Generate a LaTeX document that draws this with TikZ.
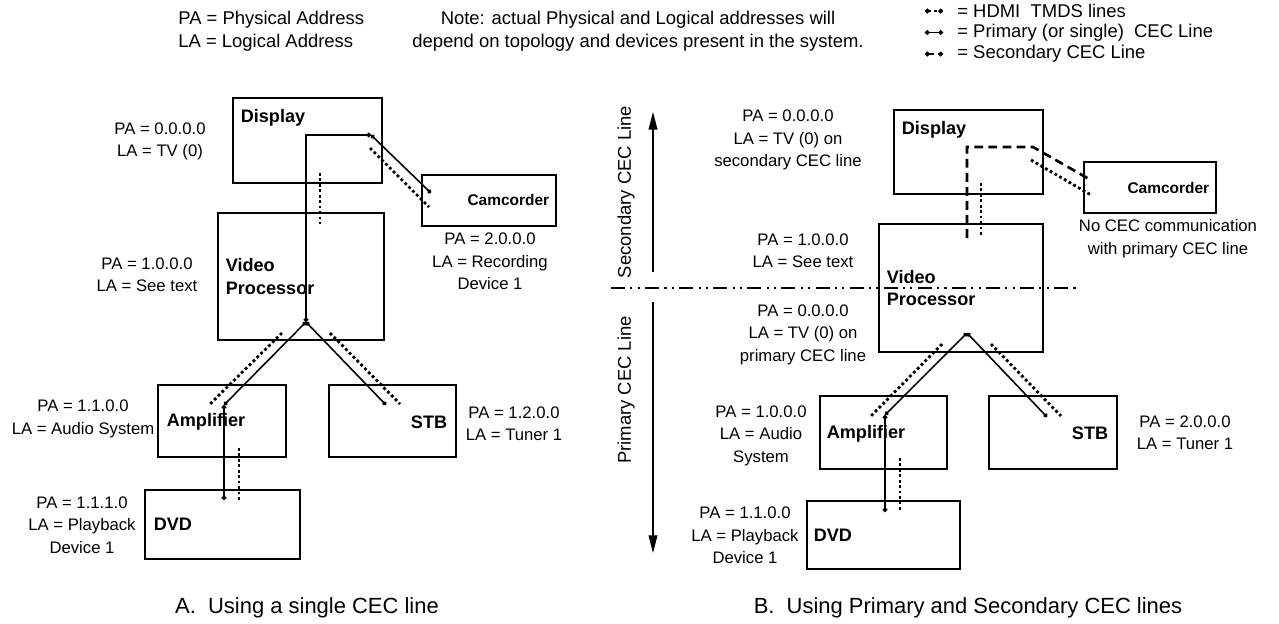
\documentclass[tikz,border=0pt]{standalone}
\usepackage{fontspec}
\setmainfont{Liberation Sans}
\usetikzlibrary{arrows.meta, positioning}

\begin{document}
\begin{tikzpicture}[
    x=0.02cm, y=-0.02cm,
    box/.style={rectangle, draw, line width=0.6pt, inner sep=0pt},
    devname/.style={font=\fontsize{10.3}{13}\selectfont\bfseries, inner sep=0pt, align=left},
    smallname/.style={font=\fontsize{8.8}{11}\selectfont\bfseries, inner sep=0pt},
    addr/.style={align=center, font=\fontsize{9.5}{12.8}\selectfont, inner sep=0pt},
    hdr/.style={font=\fontsize{10.5}{13}\selectfont, inner sep=0pt},
    capt/.style={font=\fontsize{12.5}{15}\selectfont, inner sep=0pt},
    cec/.style={line width=0.9pt, arrows={Circle[length=2.6pt]-Circle[length=2.6pt]}},
    cectwo/.style={line width=1.5pt, dash pattern=on 5pt off 3pt},
    tmds/.style={line width=1.6pt, dash pattern=on 1.6pt off 1.5pt},
    divider/.style={line width=1.3pt, dash pattern=on 8pt off 3pt on 1.2pt off 3pt on 1.2pt off 3pt},
    cecaxis/.style={line width=0.6pt, -{Triangle[length=10pt, width=5pt]}}
]
\useasboundingbox (0,0) rectangle (1279,623);

% Header notes
\node[hdr, anchor=west, align=left] at (178,31.5) (abbrev) {PA = Physical Address\\LA = Logical Address};
\node[hdr, align=center] at (638,31.5) (remark) {Note: actual Physical and Logical addresses will\\depend on topology and devices present in the system.};

% Legend
\coordinate (keyT1) at (925,11);
\coordinate (keyT2) at (943,11);
\coordinate (keyP1) at (925,32.5);
\coordinate (keyP2) at (943,32.5);
\coordinate (keyS1) at (925,54);
\coordinate (keyS2) at (943,54);
\draw[tmds, line width=1.2pt, arrows={Circle[length=2.6pt]-Circle[length=2.6pt]}] (keyT1) -- (keyT2);
\draw[cec] (keyP1) -- (keyP2);
\draw[line width=1.2pt, dash pattern=on 3pt off 2.5pt, arrows={Circle[length=2.6pt]-Circle[length=2.6pt]}] (keyS1) -- (keyS2);
\node[hdr, anchor=west] at (957,11) (keyTmds) {= HDMI\ \ TMDS lines};
\node[hdr, anchor=west] at (957,32.5) (keyPrim) {= Primary (or single)\ \ CEC Line};
\node[hdr, anchor=west] at (957,54) (keySec) {= Secondary CEC Line};

% A: single CEC line - devices
\node[box, minimum width=2.98cm, minimum height=1.70cm] at (307.5,140.5) (dispA) {};
\node[box, minimum width=2.68cm, minimum height=1.02cm] at (489,200.5) (camA) {};
\node[box, minimum width=3.32cm, minimum height=2.54cm] at (301,276.5) (vidA) {};
\node[box, minimum width=2.56cm, minimum height=1.44cm] at (222,421) (ampA) {};
\node[box, minimum width=2.54cm, minimum height=1.44cm] at (392.5,421) (stbA) {};
\node[box, minimum width=3.10cm, minimum height=1.38cm] at (222.5,524.5) (dvdA) {};

\node[devname, anchor=west] at ([shift={(8,20)}]dispA.north west) (dispAname) {Display};
\node[smallname, anchor=east] at ([shift={(-7,-1)}]camA.east) (camAname) {Camcorder};
\node[devname, anchor=west] at ([shift={(8,0)}]vidA.west) (vidAname) {Video\\Processor};
\node[devname, anchor=west] at ([shift={(9,1)}]ampA.west) (ampAname) {Amplifier};
\node[devname, anchor=east] at ([shift={(-9,1)}]stbA.east) (stbAname) {STB};
\node[devname, anchor=west] at ([shift={(9,0)}]dvdA.west) (dvdAname) {DVD};

% A: addresses
\node[addr] at (160,141.5) (dispAaddr) {PA = 0.0.0.0\\LA = TV (0)};
\node[addr] at (490,261.5) (camAaddr) {PA = 2.0.0.0\\LA = Recording\\Device 1};
\node[addr] at (147,275) (vidAaddr) {PA = 1.0.0.0\\LA = See text};
\node[addr] at (83,419) (ampAaddr) {PA = 1.1.0.0\\LA = Audio System};
\node[addr] at (514,424) (stbAaddr) {PA = 1.2.0.0\\LA = Tuner 1};
\node[addr] at (82,525) (dvdAaddr) {PA = 1.1.1.0\\LA = Playback\\Device 1};

% A: CEC line
\coordinate (cecDispA) at (371,135);
\coordinate (cecCamA) at (431,193);
\coordinate (cecHubA) at (306,322);
\coordinate (cecAmpA) at (224,405);
\coordinate (cecDvdA) at (224,500);
\coordinate (cecStbA) at (386,405);
\draw[cec] (cecCamA) -- (cecDispA);
\draw[cec] (cecDispA) -| (cecHubA);
\draw[cec] (cecHubA) -- (cecAmpA);
\draw[cec] (cecAmpA) -- (cecDvdA);
\draw[cec] (cecHubA) -- (cecStbA);

% A: HDMI TMDS lines
\coordinate (tmdsDispA) at (320,173);
\coordinate (tmdsVidA) at (320,224);
\coordinate (tmdsDcA) at (370,148);
\coordinate (tmdsCamA) at (429,207);
\coordinate (tmdsVaA) at (282,333);
\coordinate (tmdsAmpA) at (210,404);
\coordinate (tmdsVsA) at (330,333);
\coordinate (tmdsStbA) at (400,404);
\coordinate (tmdsAdA) at (239,448);
\coordinate (tmdsDvdA) at (239,500);
\draw[tmds] (tmdsDispA) -- (tmdsVidA);
\draw[tmds] (tmdsDcA) -- (tmdsCamA);
\draw[tmds] (tmdsVaA) -- (tmdsAmpA);
\draw[tmds] (tmdsVsA) -- (tmdsStbA);
\draw[tmds] (tmdsAdA) -- (tmdsDvdA);

% B: primary and secondary CEC lines - devices
\node[box, minimum width=2.98cm, minimum height=1.68cm] at (968.5,152) (dispB) {};
\node[box, minimum width=2.64cm, minimum height=1.02cm] at (1150,187.5) (camB) {};
\node[box, minimum width=3.28cm, minimum height=2.56cm] at (961,288) (vidB) {};
\node[box, minimum width=2.54cm, minimum height=1.46cm] at (883.5,432.5) (ampB) {};
\node[box, minimum width=2.56cm, minimum height=1.46cm] at (1053,432.5) (stbB) {};
\node[box, minimum width=3.06cm, minimum height=1.36cm] at (883.5,535) (dvdB) {};

\node[devname, anchor=west] at ([shift={(8,20)}]dispB.north west) (dispBname) {Display};
\node[smallname, anchor=east] at ([shift={(-7,0)}]camB.east) (camBname) {Camcorder};
\node[devname, anchor=west] at ([shift={(8,0)}]vidB.west) (vidBname) {Video\\Processor};
\node[devname, anchor=west] at ([shift={(7,1)}]ampB.west) (ampBname) {Amplifier};
\node[devname, anchor=east] at ([shift={(-9,1)}]stbB.east) (stbBname) {STB};
\node[devname, anchor=west] at ([shift={(7,0)}]dvdB.west) (dvdBname) {DVD};

% B: addresses
\node[addr] at (788,140) (dispBaddr) {PA = 0.0.0.0\\LA = TV (0) on\\secondary CEC line};
\node[addr] at (1168,238.5) (camBnote) {No CEC communication\\with primary CEC line};
\node[addr] at (803,251) (vidBsec) {PA = 1.0.0.0\\LA = See text};
\node[addr] at (803,334.5) (vidBpri) {PA = 0.0.0.0\\LA = TV (0) on\\primary CEC line};
\node[addr] at (761,435.5) (ampBaddr) {PA = 1.0.0.0\\LA = Audio\\System};
\node[addr] at (1185,433) (stbBaddr) {PA = 2.0.0.0\\LA = Tuner 1};
\node[addr] at (745,535.5) (dvdBaddr) {PA = 1.1.0.0\\LA = Playback\\Device 1};

% B: secondary CEC line
\coordinate (secVidB) at (967,238);
\coordinate (secDispB) at (967,147);
\coordinate (secCornB) at (1033,147);
\coordinate (secCamB) at (1089,179);
\draw[cectwo] (secVidB) -- (secDispB) -- (secCornB) -- (secCamB);

% B: primary CEC line
\coordinate (cecHubB) at (967,333);
\coordinate (cecAmpB) at (885,415);
\coordinate (cecDvdB) at (885,512);
\coordinate (cecStbB) at (1047,417);
\draw[cec] (cecHubB) -- (cecAmpB);
\draw[cec] (cecAmpB) -- (cecDvdB);
\draw[cec] (cecHubB) -- (cecStbB);

% B: HDMI TMDS lines
\coordinate (tmdsDispB) at (981,183);
\coordinate (tmdsVidB) at (981,237);
\coordinate (tmdsDcB) at (1031,160);
\coordinate (tmdsCamB) at (1091,195);
\coordinate (tmdsVaB) at (942,344);
\coordinate (tmdsAmpB) at (871,416);
\coordinate (tmdsVsB) at (991,344);
\coordinate (tmdsStbB) at (1061,416);
\coordinate (tmdsAdB) at (900,458);
\coordinate (tmdsDvdB) at (900,512);
\draw[tmds] (tmdsDispB) -- (tmdsVidB);
\draw[tmds] (tmdsDcB) -- (tmdsCamB);
\draw[tmds] (tmdsVaB) -- (tmdsAmpB);
\draw[tmds] (tmdsVsB) -- (tmdsStbB);
\draw[tmds] (tmdsAdB) -- (tmdsDvdB);

% B: line split and direction arrows
\coordinate (splitL) at (611,288);
\coordinate (splitR) at (1078,288);
\draw[divider] (splitL) -- (splitR);
\coordinate (secBot) at (653,272);
\coordinate (secTop) at (653,112);
\coordinate (priTop) at (653,302);
\coordinate (priBot) at (653,553);
\draw[cecaxis] (secBot) -- (secTop);
\draw[cecaxis] (priTop) -- (priBot);
\node[hdr, rotate=90] at (626,192) (secLabel) {Secondary CEC Line};
\node[hdr, rotate=90] at (626,390) (priLabel) {Primary CEC Line};

% Captions
\node[capt] at (307,608) (captA) {A.\ \ Using a single CEC line};
\node[capt] at (968,608) (captB) {B.\ \ Using Primary and Secondary CEC lines};

\end{tikzpicture}
\end{document}
